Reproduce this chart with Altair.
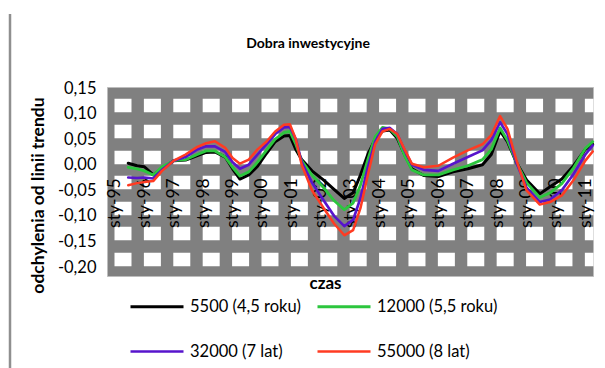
import altair as alt
import pandas as pd

# ---- data ----
T = [1995.45, 1995.75, 1996.0, 1996.3, 1996.6, 1997.0, 1997.4, 1997.8, 1998.1, 1998.4,
     1998.75, 1999.0, 1999.25, 1999.55, 1999.85, 2000.15, 2000.45, 2000.75, 2000.95, 2001.15,
     2001.35, 2001.7, 2002.1, 2002.45, 2002.8, 2003.1, 2003.35, 2003.6, 2003.85, 2004.1,
     2004.35, 2004.6, 2004.85, 2005.1, 2005.5, 2006.0, 2006.5, 2007.0, 2007.5, 2007.8,
     2008.1, 2008.35, 2008.65, 2009.0, 2009.45, 2009.8, 2010.2, 2010.6, 2011.0, 2011.25]

S_5500 = [0.003, -0.002, -0.004, -0.020, -0.008, 0.008, 0.009, 0.018, 0.024, 0.025,
          0.015, -0.008, -0.028, -0.020, -0.003, 0.022, 0.045, 0.056, 0.057, 0.030,
          0.010, -0.012, -0.030, -0.048, -0.066, -0.055, -0.020, 0.020, 0.050, 0.066,
          0.068, 0.052, 0.020, -0.008, -0.021, -0.023, -0.014, -0.008, 0.000, 0.020,
          0.066, 0.045, 0.005, -0.030, -0.057, -0.043, -0.028, -0.002, 0.030, 0.040]

S_12000 = [-0.005, -0.008, -0.012, -0.020, -0.004, 0.008, 0.010, 0.020, 0.027, 0.027,
           0.015, -0.005, -0.022, -0.014, 0.005, 0.028, 0.050, 0.063, 0.065, 0.040,
           0.008, -0.020, -0.045, -0.070, -0.088, -0.075, -0.040, 0.010, 0.055, 0.073,
           0.070, 0.055, 0.018, -0.010, -0.020, -0.020, -0.010, -0.002, 0.010, 0.030,
           0.072, 0.048, 0.005, -0.035, -0.064, -0.055, -0.037, -0.006, 0.032, 0.045]

S_32000 = [-0.025, -0.026, -0.025, -0.027, -0.010, 0.008, 0.015, 0.030, 0.036, 0.036,
           0.025, 0.005, -0.008, 0.000, 0.020, 0.040, 0.060, 0.073, 0.074, 0.050,
           0.005, -0.035, -0.070, -0.100, -0.120, -0.108, -0.065, -0.005, 0.045, 0.070,
           0.072, 0.060, 0.028, 0.000, -0.010, -0.012, 0.002, 0.015, 0.028, 0.048,
           0.083, 0.060, 0.005, -0.045, -0.073, -0.068, -0.050, -0.018, 0.020, 0.038]

S_55000 = [-0.040, -0.036, -0.034, -0.032, -0.012, 0.008, 0.020, 0.035, 0.042, 0.046,
           0.033, 0.013, 0.002, 0.010, 0.030, 0.045, 0.065, 0.078, 0.079, 0.050,
           0.000, -0.050, -0.085, -0.115, -0.138, -0.128, -0.085, -0.020, 0.040, 0.065,
           0.070, 0.060, 0.030, 0.002, -0.005, -0.002, 0.014, 0.028, 0.040, 0.058,
           0.095, 0.070, 0.010, -0.050, -0.078, -0.073, -0.060, -0.030, 0.008, 0.026]

SERIES = ["5500 (4,5 roku)", "12000 (5,5 roku)", "32000 (7 lat)", "55000 (8 lat)"]
VALUES = [S_5500, S_12000, S_32000, S_55000]
COLORS = ["#000000", "#2cc63e", "#5714cc", "#ff3b22"]
WIDTHS = [3, 2.5, 4, 3.5]
Y_TICKS = [0.15, 0.10, 0.05, 0.00, -0.05, -0.10, -0.15, -0.20]
X_TICKS = list(range(1995, 2012))

rows = []
for name, vals in zip(SERIES, VALUES):
    for t, v in zip(T, vals):
        rows.append({"t": t, "v": v, "s": name})
df = pd.DataFrame(rows)

# ---- layout ----
W, H = 486, 189
X_DOM = [1994.728, 2011.26]
Y_DOM = [-0.2176, 0.152]
ypx = H / (Y_DOM[1] - Y_DOM[0])
zero_px = Y_DOM[1] * ypx
xpx = W / (X_DOM[1] - X_DOM[0])
FONT = "Lato"

# white rectangle pattern (dashed white grid lines)
GRID_SHIFT = 0.034
grid_vals = [v - GRID_SHIFT for v in Y_TICKS[:-1]]
white_len = 17.0
gap_len = xpx - white_len
first_white = (1995 - X_DOM[0]) * xpx - 1
dash_offset = xpx - first_white

xscale = alt.Scale(domain=X_DOM, nice=False, zero=False)
yscale = alt.Scale(domain=Y_DOM, nice=False, zero=False)

x_axis = alt.Axis(
    values=X_TICKS,
    labelExpr="'sty-' + slice(toString(datum.value), 2)",
    labelAngle=-90, labelPadding=13, labelFontSize=17.5, labelFont=FONT,
    labelColor="#000000", labelOverlap=False, labelFlush=False,
    domain=False, ticks=False, grid=False, offset=-(H - zero_px),
    title="czas", titleFont=FONT, titleFontSize=17, titleFontWeight="bold",
    titleColor="#000000", titleX=218, titleY=283 - 87 - zero_px,
    titleAlign="center", titleBaseline="middle",
)

y_axis = alt.Axis(
    values=Y_TICKS, orient="left",
    labelExpr="(datum.value < -0.001 ? '-' : '') + replace(format(abs(datum.value), '.2f'), '.', ',')",
    labelFontSize=16.5, labelFont=FONT, labelColor="#000000", labelPadding=11,
    domain=False, ticks=False, grid=False,
    title="odchylenia od linii trendu", titleFont=FONT, titleFontSize=17.5,
    titleFontWeight="bold", titleColor="#000000", titleAngle=-90,
    titleX=38 - 107, titleY=195 - 87, titleAlign="center", titleBaseline="middle",
)

grid_axis = alt.Axis(
    values=grid_vals, orient="left", labels=False, ticks=False, domain=False,
    grid=True, gridColor="#ffffff", gridOpacity=1, gridWidth=13.5,
    gridDash=[white_len, gap_len], gridDashOffset=dash_offset, title=None,
)

legend = alt.Legend(
    orient="none", legendX=22, legendY=305 - 87 - 26.5, columns=2, direction="horizontal",
    title=None, symbolType="stroke", symbolSize=53 * 53, labelFont=FONT, labelFontSize=16.5,
    labelColor="#000000", labelOffset=5, columnPadding=10, rowPadding=8,
    padding=0, labelLimit=0,
)

grid_layer = alt.Chart(df).mark_line(opacity=0).encode(
    x=alt.X("t:Q", scale=xscale, axis=None),
    y=alt.Y("v:Q", scale=yscale, axis=grid_axis),
    detail="s:N",
)

lines = alt.Chart(df).mark_line(strokeCap="round", strokeJoin="round").encode(
    x=alt.X("t:Q", scale=xscale, axis=x_axis),
    y=alt.Y("v:Q", scale=yscale, axis=y_axis),
    color=alt.Color("s:N", scale=alt.Scale(domain=SERIES, range=COLORS), legend=legend),
    strokeWidth=alt.StrokeWidth("s:N", scale=alt.Scale(domain=SERIES, range=WIDTHS), legend=legend),
    order=alt.Order("t:Q"),
)

border = alt.Chart(pd.DataFrame({"a": [0]})).mark_rule(color="#8f8f8f", strokeWidth=2.5).encode(
    x=alt.value(10 - 107), y=alt.value(14 - 87), y2=alt.value(368 - 87)
)

chart = alt.layer(grid_layer, lines, border).resolve_axis(
    x="independent", y="independent"
).properties(
    width=W, height=H,
    title=alt.TitleParams("Dobra inwestycyjne", font=FONT, fontSize=14, fontWeight="bold",
                          color="#000000", anchor="middle", dx=-42, offset=-38),
    autosize=alt.AutoSizeParams(type="none"),
    padding={"left": 107, "top": 87, "right": 605 - 107 - W, "bottom": 368 - 87 - H},
    background="#ffffff",
).configure_view(fill="#808080", stroke="#bdbdbd", strokeWidth=1)

chart.save("out.html", embed_options={"renderer": "svg", "actions": False})
